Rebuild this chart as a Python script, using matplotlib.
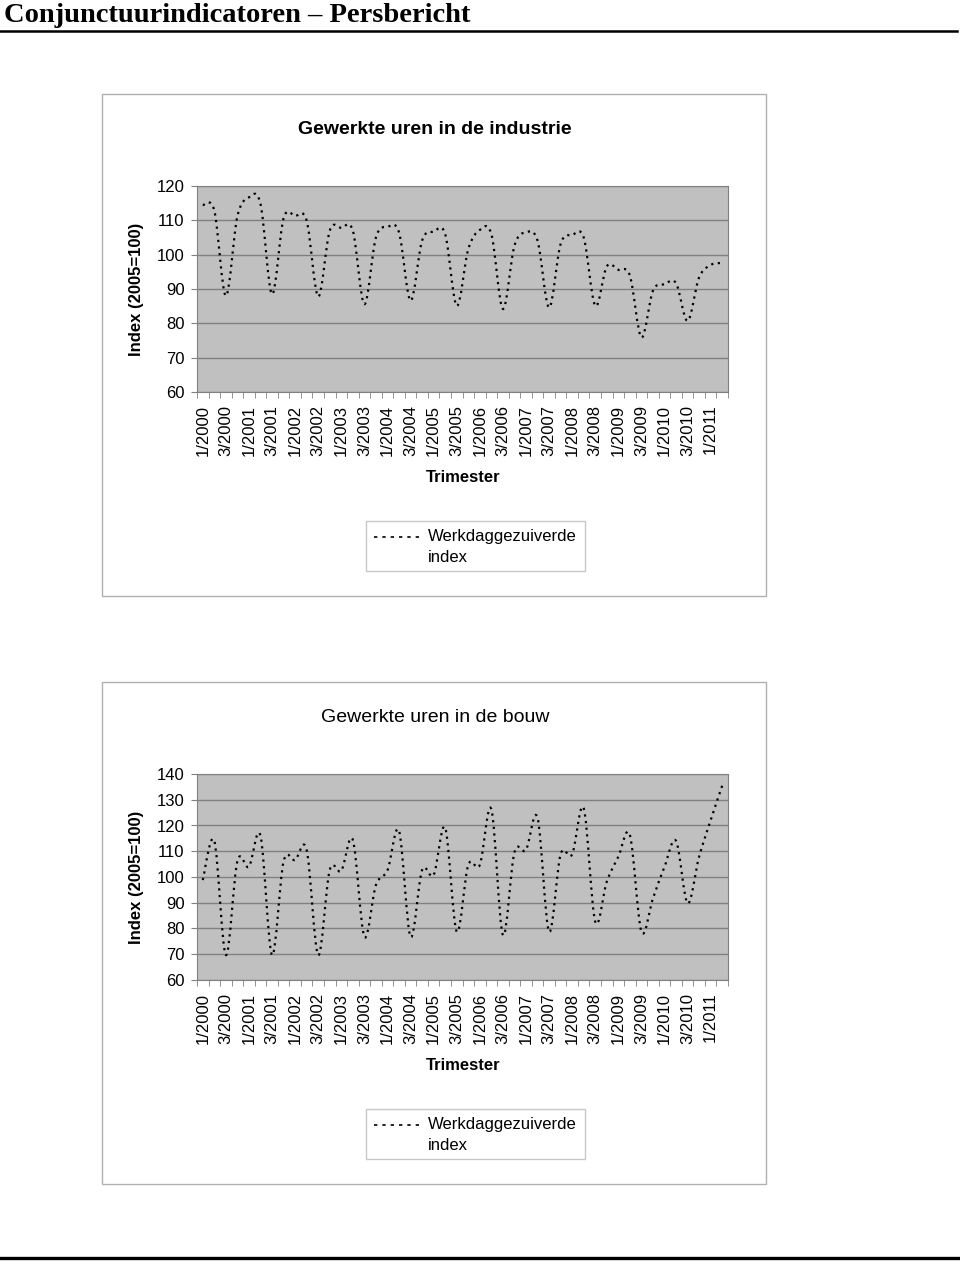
import matplotlib
matplotlib.use("Agg")
import matplotlib.pyplot as plt
import numpy as np
from matplotlib.path import Path
from matplotlib.patches import PathPatch, Rectangle
from matplotlib.lines import Line2D

plt.rcParams["font.family"] = ["Liberation Sans", "DejaVu Sans"]

W, H = 960, 1262

# Quarterly index (2005=100), 1/2000 .. 2/2011
industrie = [114.5, 112.8, 88.0, 111.2, 116.7, 114.8, 88.5, 110.6, 111.3, 109.9,
             87.8, 107.0, 107.8, 107.0, 85.6, 105.0, 108.1, 106.5, 86.6, 104.1,
             106.7, 106.0, 85.1, 101.6, 107.2, 106.0, 84.2, 102.6, 106.5, 104.1,
             84.6, 103.1, 105.7, 105.0, 85.1, 96.6, 95.6, 93.9, 75.9, 89.5,
             91.4, 91.7, 80.7, 93.4, 97.0, 97.6]
bouw = [98.8, 114.0, 69.7, 106.2, 104.0, 116.0, 69.7, 106.0, 106.6, 110.5,
        69.7, 102.7, 102.4, 114.4, 76.8, 96.9, 102.6, 117.9, 76.8, 102.7,
        100.8, 119.1, 78.8, 104.7, 104.7, 126.3, 77.5, 109.6, 110.5, 123.0,
        78.8, 108.8, 108.8, 126.7, 82.6, 98.2, 107.9, 116.3, 78.8, 91.7,
        104.0, 114.0, 89.8, 107.9, 122.1, 135.5]

tick_labels = ["1/2000", "3/2000", "1/2001", "3/2001", "1/2002", "3/2002",
               "1/2003", "3/2003", "1/2004", "3/2004", "1/2005", "3/2005",
               "1/2006", "3/2006", "1/2007", "3/2007", "1/2008", "3/2008",
               "1/2009", "3/2009", "1/2010", "3/2010", "1/2011"]

GRID = "#808080"
DASH = (0, (1.0, 2.0))


def fx(px):
    return px / W


def fy(py):
    return 1 - py / H


def smooth_path(x, y):
    # Excel-style smoothed line: cubic bezier segments through every point
    pts = np.column_stack([x, y])
    ext = np.vstack([pts[0], pts, pts[-1]])
    verts = [pts[0]]
    codes = [Path.MOVETO]
    for i in range(len(pts) - 1):
        p0, p1, p2, p3 = ext[i], ext[i + 1], ext[i + 2], ext[i + 3]
        verts += [p1 + (p2 - p0) / 6, p2 - (p3 - p1) / 6, p2]
        codes += [Path.CURVE4] * 3
    return Path(verts, codes)


def panel(fig, top, title, title_bold, values, ymin, ymax):
    frame_top = top
    fig.add_artist(Rectangle((fx(102), fy(frame_top + 502)), fx(664), 502 / H,
                             transform=fig.transFigure, fill=False,
                             edgecolor="#b0b0b0", lw=1))
    fig.text(fx(435), fy(frame_top + 36), title, ha="center", va="center",
             fontsize=14, weight="bold" if title_bold else "normal")

    ax_top = frame_top + 92
    ax = fig.add_axes([fx(197), fy(ax_top + 206), 531 / W, 206 / H])
    ax.set_facecolor("#c0c0c0")
    x = np.arange(len(values)) + 0.5
    ax.add_patch(PathPatch(smooth_path(x, values), fill=False, edgecolor="black",
                           lw=1.6, linestyle=DASH, zorder=3))
    ax.set_xlim(0, len(values))
    ax.set_ylim(ymin, ymax)
    ax.set_yticks(np.arange(ymin, ymax + 1, 10))
    ax.set_xticks(np.arange(0.5, len(values), 2))
    ax.set_xticklabels(tick_labels, rotation=90)
    ax.set_xticks(np.arange(0, len(values) + 1), minor=True)
    ax.tick_params(axis="x", which="major", length=0, pad=9, labelsize=12)
    ax.tick_params(axis="x", which="minor", length=4, direction="out", color=GRID)
    ax.tick_params(axis="y", length=4, direction="out", color=GRID, pad=5, labelsize=12)
    ax.yaxis.grid(True, color=GRID, lw=1)
    ax.set_axisbelow(True)
    for s in ax.spines.values():
        s.set_color(GRID)

    fig.text(fx(137), fy(ax_top + 103), "Index (2005=100)", rotation=90,
             ha="center", va="center", fontsize=12, weight="bold")
    fig.text(fx(463), fy(frame_top + 384), "Trimester", ha="center", va="center",
             fontsize=12, weight="bold")

    # legend box
    ly = frame_top + 427
    fig.add_artist(Rectangle((fx(366), fy(ly + 50)), 219 / W, 50 / H,
                             transform=fig.transFigure, fill=False,
                             edgecolor="#c8c8c8", lw=1))
    fig.add_artist(Line2D([fx(374), fx(424)], [fy(ly + 16)] * 2, color="black",
                          lw=1.2, linestyle=(0, (2, 3))))
    fig.text(fx(428), fy(ly + 16), "Werkdaggezuiverde", va="center", fontsize=12)
    fig.text(fx(428), fy(ly + 37), "index", va="center", fontsize=12)
    return ax


fig = plt.figure(figsize=(W / 100, H / 100), dpi=100)

fig.text(fx(4), fy(22), "Conjunctuurindicatoren \u2013 Persbericht",
         family=["Liberation Serif", "DejaVu Serif"], weight="bold", fontsize=20.5,
         va="baseline")
fig.add_artist(Line2D([0, fx(957)], [fy(31)] * 2, color="black", lw=1.8))
fig.add_artist(Line2D([fx(1), fx(958)], [fy(1258)] * 2, color="black", lw=2.4))

panel(fig, 94, "Gewerkte uren in de industrie", True, industrie, 60, 120)
panel(fig, 682, "Gewerkte uren in de bouw", False, bouw, 60, 140)

fig.savefig("out.png", dpi=100)
